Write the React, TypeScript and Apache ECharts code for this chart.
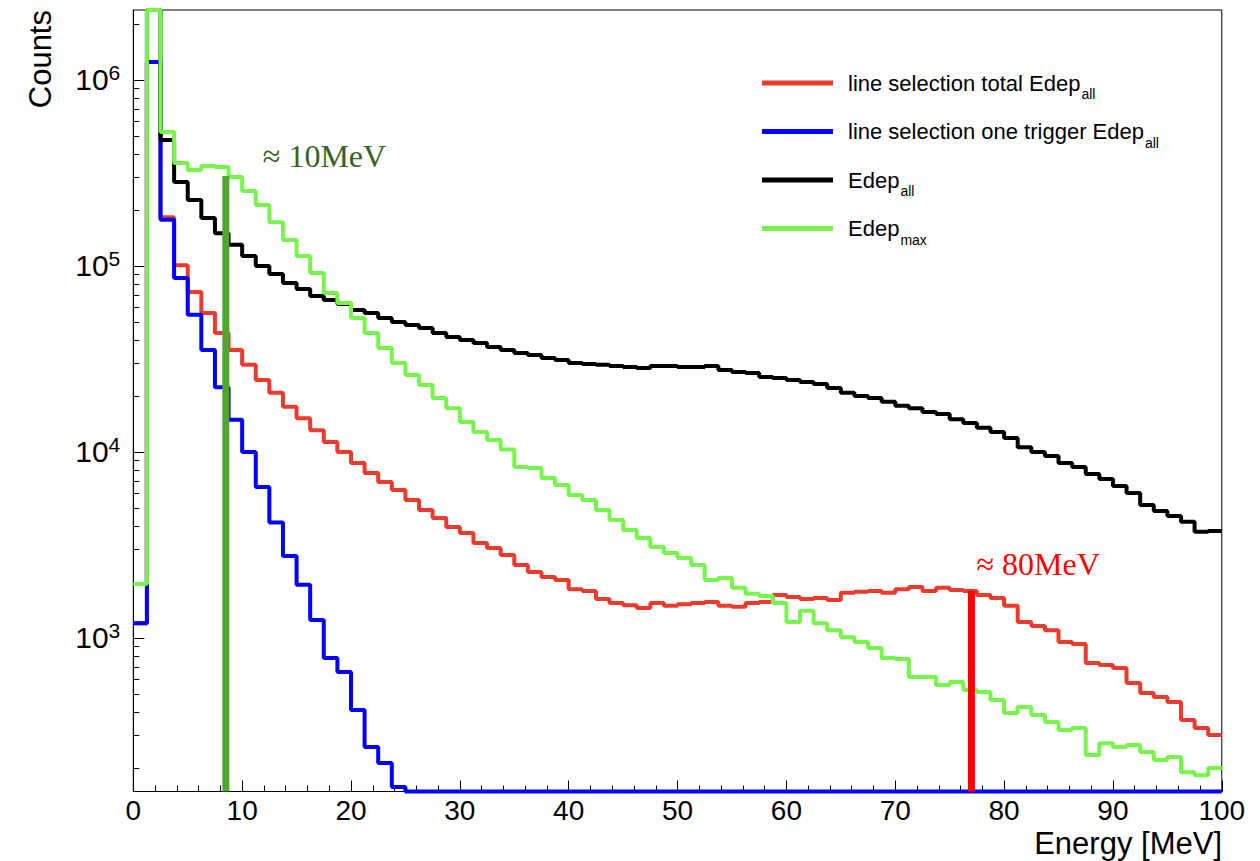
import React, { useEffect, useRef } from "react";
import * as echarts from "echarts";

// ---------- data ----------
const X_MIN = 0;
const X_MAX = 100;
const BIN_COUNT = 80;
const Y_MIN = 149.5;
const Y_MAX = 2.378e6;

const seriesNames = [
  "line selection total Edep_all",
  "line selection one trigger Edep_all",
  "Edep_all",
  "Edep_max",
];

const redCounts = [
  1200, 1250000, 183000, 101000, 72400, 55900, 43600, 35300, 29400, 24400,
  20800, 17500, 15200, 13100, 11300, 10000, 8730, 7710, 6900, 6250,
  5520, 4880, 4420, 3950, 3670, 3240, 3050, 2790, 2470, 2260,
  2130, 2050, 1830, 1790, 1620, 1540, 1500, 1450, 1540, 1490,
  1520, 1540, 1560, 1490, 1470, 1540, 1560, 1700, 1660, 1620,
  1640, 1600, 1750, 1770, 1790, 1750, 1830, 1880, 1790, 1860,
  1810, 1790, 1700, 1640, 1490, 1220, 1160, 1100, 951, 929,
  734, 716, 690, 573, 506, 482, 453, 362, 328, 301,
];

const blueCounts = [
  1200, 1250000, 177000, 86100, 54600, 35300, 22300, 14900, 10000, 6490,
  4180, 2760, 1930, 1250, 780, 656, 410, 259, 213, 158,
  0, 0, 0, 0, 0, 0, 0, 0, 0, 0,
  0, 0, 0, 0, 0, 0, 0, 0, 0, 0,
  0, 0, 0, 0, 0, 0, 0, 0, 0, 0,
  0, 0, 0, 0, 0, 0, 0, 0, 0, 0,
  0, 0, 0, 0, 0, 0, 0, 0, 0, 0,
  0, 0, 0, 0, 0, 0, 0, 0, 0, 0,
];

const blackCounts = [
  1950, 2378000, 475000, 283000, 226000, 181000, 150000, 130000, 113000, 100000,
  90600, 81100, 75200, 69000, 65700, 62500, 58000, 55900, 52500, 50000,
  48200, 46400, 43600, 41500, 40000, 38500, 36700, 35300, 34000, 33200,
  32000, 31200, 30100, 29700, 29400, 29000, 28600, 28300, 29000, 29000,
  28600, 28600, 29000, 27600, 26900, 26600, 25300, 25000, 24400, 23800,
  23200, 22100, 20800, 20000, 19500, 18600, 17700, 17200, 16400, 16000,
  15000, 14300, 13500, 12800, 11900, 10600, 10000, 9510, 8730, 8300,
  7620, 7160, 6560, 6020, 5190, 4820, 4530, 4210, 3720, 3760,
];

const greenCounts = [
  1950, 2378000, 525000, 358000, 328000, 345000, 341000, 301000, 253000, 213000,
  172000, 138000, 113000, 91600, 71600, 63300, 52500, 43600, 36200, 30100,
  25900, 22900, 19500, 17200, 14500, 12800, 11600, 10300, 8300, 8200,
  7250, 6650, 5870, 5520, 4880, 4310, 3810, 3450, 3080, 2860,
  2690, 2470, 2050, 2100, 1860, 1730, 1680, 1540, 1220, 1400,
  1200, 1100, 1010, 951, 883, 780, 771, 617, 617, 559,
  580, 525, 513, 464, 395, 426, 385, 353, 320, 328,
  235, 272, 259, 266, 244, 221, 229, 190, 183, 200,
];

const seriesCounts = [redCounts, blueCounts, blackCounts, greenCounts];
const seriesColors = ["#ec3b2d", "#0000ff", "#000000", "#77f54c"];

// vertical markers (energy, top count, label)
const markerEnergy = [8.5, 77];
const markerTop = [305000, 1790];
const markerLabels = ["≈ 10MeV", "≈ 80MeV"];
const markerColors = ["#4ea72e", "#ff0000"];
const markerTextColors = ["#38621f", "#ff0000"];

// axis ticks
const yMajorTicks = [1e3, 1e4, 1e5, 1e6];
const yMinorTicks = [
  200, 300, 400, 500, 600, 700, 800, 900,
  2000, 3000, 4000, 5000, 6000, 7000, 8000, 9000,
  20000, 30000, 40000, 50000, 60000, 70000, 80000, 90000,
  200000, 300000, 400000, 500000, 600000, 700000, 800000, 900000,
  2000000,
];

const SANS = '"Liberation Sans", Arial, Helvetica, sans-serif';
const SERIF = '"Liberation Serif", "DejaVu Serif", serif';

function histData(counts: number[]) {
  const w = (X_MAX - X_MIN) / BIN_COUNT;
  const pts: [number, number][] = counts.map((c, i) => [
    X_MIN + i * w,
    c > 0 ? c : Y_MIN,
  ]);
  pts.push([X_MAX, counts[counts.length - 1] > 0 ? counts[counts.length - 1] : Y_MIN]);
  return pts;
}

function legendFormatter(name: string) {
  const [main, sub] = name.split("_");
  return `{n|${main}}{s|${sub}}`;
}

export default function App() {
  const ref = useRef<HTMLDivElement>(null);

  useEffect(() => {
    if (!ref.current) return;
    const chart = echarts.init(ref.current, undefined, { renderer: "svg" });

    const histSeries = seriesNames.map((name, k) => ({
      name,
      type: "line",
      step: "end",
      data: histData(seriesCounts[k]),
      showSymbol: false,
      symbol: "none",
      clip: false,
      lineStyle: { color: seriesColors[k], width: 4 },
      itemStyle: { color: seriesColors[k] },
      z: 2 + k * 0.1,
    }));

    const markerSeries = markerEnergy.map((x, k) => ({
      name: "marker" + k,
      type: "line",
      data: [
        [x, Y_MIN],
        [x, markerTop[k]],
      ],
      showSymbol: false,
      symbol: "none",
      clip: false,
      lineStyle: { color: markerColors[k], width: 7 },
      itemStyle: { color: markerColors[k] },
      z: 5,
    }));

    const option: any = {
      animation: false,
      backgroundColor: "#ffffff",
      grid: {
        left: 133.3,
        right: 38.2,
        top: 10,
        bottom: 69.5,
        show: true,
        borderColor: "#000",
        borderWidth: 1,
        backgroundColor: "transparent",
      },
      legend: {
        data: seriesNames,
        orient: "vertical",
        left: 757,
        top: 60,
        itemWidth: 71,
        itemHeight: 5,
        itemGap: 12.5,
        icon: "rect",
        formatter: legendFormatter,
        textStyle: {
          color: "#000",
          rich: {
            n: { fontSize: 22, fontFamily: SANS, color: "#000", lineHeight: 24, padding: [0, 0, 0, 10] },
            s: { fontSize: 14, fontFamily: SANS, color: "#000", lineHeight: 14, padding: [22, 0, 0, 1] },
          },
        },
      },
      xAxis: {
        type: "value",
        min: X_MIN,
        max: X_MAX,
        interval: 10,
        axisLine: { show: true, onZero: false, lineStyle: { color: "#000", width: 1 } },
        axisTick: { show: true, inside: true, length: 11, lineStyle: { color: "#000", width: 1 } },
        minorTick: { show: true, splitNumber: 5, length: 6, lineStyle: { color: "#000", width: 1 } },
        splitLine: { show: false },
        minorSplitLine: { show: false },
        axisLabel: { color: "#000", fontSize: 28, fontFamily: SANS, margin: 9, lineHeight: 20 },
      },
      yAxis: [
        {
          type: "log",
          logBase: 10,
          min: Y_MIN,
          max: Y_MAX,
          position: "left",
          axisLine: { show: true, onZero: false, lineStyle: { color: "#000", width: 1 } },
          axisTick: {
            show: true,
            inside: true,
            length: 11,
            customValues: yMajorTicks,
            lineStyle: { color: "#000", width: 1 },
          },
          splitLine: { show: false },
          axisLabel: {
            customValues: yMajorTicks,
            margin: 13,
            formatter: (v: number) => {
              const e = Math.log10(v);
              if (Math.abs(e - Math.round(e)) > 1e-6) return "";
              return `{b|10}{e|${Math.round(e)}}`;
            },
            rich: {
              b: { fontSize: 30, fontFamily: SANS, color: "#000" },
              e: { fontSize: 21, fontFamily: SANS, color: "#000", padding: [0, 0, 15, 0] },
            },
          },
        },
        {
          type: "log",
          logBase: 10,
          min: Y_MIN,
          max: Y_MAX,
          position: "left",
          axisLine: { show: false },
          axisTick: {
            show: true,
            inside: true,
            length: 6,
            customValues: yMinorTicks,
            lineStyle: { color: "#000", width: 1 },
          },
          splitLine: { show: false },
          axisLabel: { show: false },
        },
      ],
      series: [...histSeries, ...markerSeries],
    };

    chart.setOption(option);

    const graphics: any[] = [
      {
        type: "text",
        x: 40,
        y: 10,
        rotation: Math.PI / 2,
        style: {
          text: "Counts",
          fontSize: 31,
          fontFamily: SANS,
          fill: "#000",
          align: "right",
          verticalAlign: "middle",
        },
      },
      {
        type: "text",
        x: 1222,
        y: 843,
        style: {
          text: "Energy [MeV]",
          fontSize: 31,
          lineHeight: 18,
          fontFamily: SANS,
          fill: "#000",
          align: "right",
          verticalAlign: "middle",
        },
      },
    ];
    const labelOffsets = [
      [37, -20],
      [5, -27],
    ];
    markerEnergy.forEach((x, k) => {
      const p = chart.convertToPixel({ xAxisIndex: 0, yAxisIndex: 0 }, [x, markerTop[k]]) as number[];
      if (!p) return;
      graphics.push({
        type: "text",
        x: p[0] + labelOffsets[k][0],
        y: p[1] + labelOffsets[k][1],
        style: {
          text: markerLabels[k],
          fontSize: 32,
          fontFamily: SERIF,
          fill: markerTextColors[k],
          align: "left",
          verticalAlign: "middle",
        },
      });
    });
    chart.setOption({ graphic: graphics });

    return () => chart.dispose();
  }, []);

  return (
    <div
      ref={ref}
      style={{ position: "absolute", left: 0, top: 0, width: 1260, height: 861, background: "#fff" }}
    />
  );
}
